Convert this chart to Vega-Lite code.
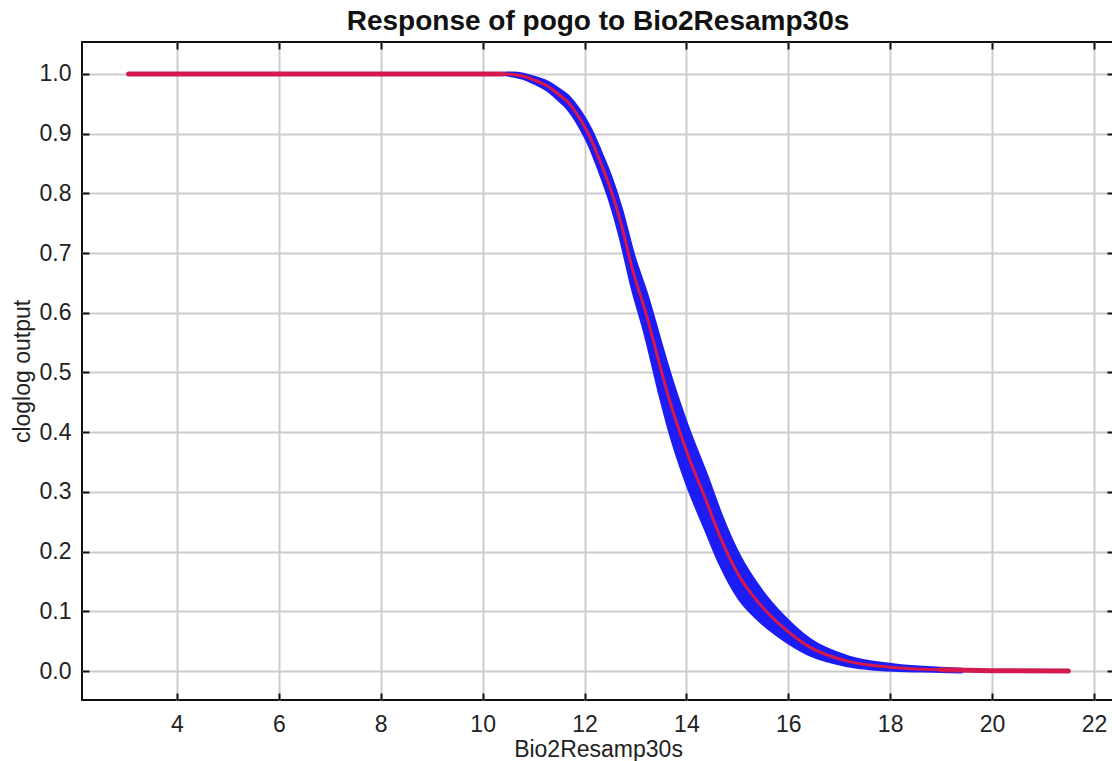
{
  "$schema": "https://vega.github.io/schema/vega-lite/v6.json",
  "width": 1032,
  "height": 658,
  "autosize": {"type": "none"},
  "padding": {"left": 82, "top": 42, "right": 0, "bottom": 61},
  "background": "white",
  "title": {"text": "Response of pogo to Bio2Resamp30s", "font": "Liberation Sans", "fontSize": 28, "fontWeight": "bold", "color": "#111111", "anchor": "middle", "offset": 5},
  "config": {
    "view": {"stroke": "#111111", "strokeWidth": 2},
    "axis": {"labelFont": "Liberation Sans", "titleFont": "Liberation Sans", "labelFontSize": 23, "titleFontSize": 23, "titleFontWeight": "normal", "labelColor": "#222222", "titleColor": "#222222", "domain": false, "gridColor": "#cccccc", "gridWidth": 2, "tickColor": "#111111", "tickWidth": 2}
  },
  "datasets": {
    "band": [
      {"x": 10.45, "lo": 1.0, "hi": 1.0},
      {"x": 10.6, "lo": 0.998, "hi": 1.0},
      {"x": 10.8, "lo": 0.994, "hi": 0.998},
      {"x": 11.0, "lo": 0.987, "hi": 0.993},
      {"x": 11.26, "lo": 0.975, "hi": 0.985},
      {"x": 11.5, "lo": 0.958, "hi": 0.972},
      {"x": 11.65, "lo": 0.946, "hi": 0.963},
      {"x": 11.91, "lo": 0.914, "hi": 0.935},
      {"x": 12.11, "lo": 0.881, "hi": 0.906},
      {"x": 12.3, "lo": 0.84, "hi": 0.869},
      {"x": 12.5, "lo": 0.792, "hi": 0.827},
      {"x": 12.7, "lo": 0.733, "hi": 0.775},
      {"x": 12.95, "lo": 0.643, "hi": 0.695},
      {"x": 13.21, "lo": 0.564, "hi": 0.629},
      {"x": 13.5, "lo": 0.462, "hi": 0.543},
      {"x": 13.67, "lo": 0.407, "hi": 0.494},
      {"x": 14.0, "lo": 0.32, "hi": 0.41},
      {"x": 14.39, "lo": 0.238, "hi": 0.325},
      {"x": 14.66, "lo": 0.183, "hi": 0.262},
      {"x": 15.05, "lo": 0.122, "hi": 0.188},
      {"x": 15.44, "lo": 0.086, "hi": 0.136},
      {"x": 15.9, "lo": 0.055, "hi": 0.09},
      {"x": 16.42, "lo": 0.029, "hi": 0.051},
      {"x": 17.14, "lo": 0.011, "hi": 0.023},
      {"x": 18.06, "lo": 0.003, "hi": 0.009},
      {"x": 19.0, "lo": 0.001, "hi": 0.003},
      {"x": 19.4, "lo": 0.0, "hi": 0.0015}
    ],
    "mean": [
      {"x": 3.05, "y": 1.0},
      {"x": 10.4, "y": 1.0},
      {"x": 10.6, "y": 0.999},
      {"x": 10.8, "y": 0.996},
      {"x": 11.0, "y": 0.99},
      {"x": 11.26, "y": 0.98},
      {"x": 11.5, "y": 0.965},
      {"x": 11.65, "y": 0.955},
      {"x": 11.91, "y": 0.925},
      {"x": 12.11, "y": 0.894},
      {"x": 12.3, "y": 0.855},
      {"x": 12.5, "y": 0.81},
      {"x": 12.7, "y": 0.755},
      {"x": 12.95, "y": 0.67},
      {"x": 13.21, "y": 0.598},
      {"x": 13.5, "y": 0.505},
      {"x": 13.67, "y": 0.453},
      {"x": 14.0, "y": 0.369},
      {"x": 14.39, "y": 0.285},
      {"x": 14.66, "y": 0.225},
      {"x": 15.05, "y": 0.157},
      {"x": 15.44, "y": 0.112},
      {"x": 15.9, "y": 0.073},
      {"x": 16.42, "y": 0.04},
      {"x": 17.14, "y": 0.017},
      {"x": 18.06, "y": 0.006},
      {"x": 19.0, "y": 0.002},
      {"x": 20.0, "y": 0.0005},
      {"x": 21.5, "y": 0.0}
    ]
  },
  "layer": [
    {
      "layer": [
        {
          "data": {"name": "band"},
          "mark": {"type": "area", "interpolate": "monotone", "color": "#1c1cf4", "stroke": "#1c1cf4", "strokeWidth": 5, "strokeJoin": "round", "strokeCap": "round"},
          "encoding": {
            "x": {"field": "x", "type": "quantitative", "scale": {"domain": [2.135, 22.394], "nice": false, "zero": false}, "axis": {"values": [4, 6, 8, 10, 12, 14, 16, 18, 20, 22], "title": "Bio2Resamp30s", "tickSize": -7, "labelPadding": 20, "titlePadding": 2, "grid": true}},
            "y": {"field": "lo", "type": "quantitative", "scale": {"domain": [-0.0485, 1.0534], "nice": false, "zero": false}, "axis": {"values": [0, 0.1, 0.2, 0.3, 0.4, 0.5, 0.6, 0.7, 0.8, 0.9, 1.0], "format": ".1f", "title": "cloglog output", "tickSize": -7, "labelPadding": 18, "titlePadding": 5, "grid": true}},
            "y2": {"field": "hi"}
          }
        },
        {
          "data": {"name": "mean"},
          "transform": [{"filter": "datum.x <= 10.5"}],
          "mark": {"type": "line", "color": "#c81c5c", "strokeWidth": 5, "strokeCap": "round"},
          "encoding": {
            "x": {"field": "x", "type": "quantitative"},
            "y": {"field": "y", "type": "quantitative"}
          }
        },
        {
          "data": {"name": "mean"},
          "transform": [{"filter": "datum.x >= 19.0"}],
          "mark": {"type": "line", "color": "#c81c5c", "strokeWidth": 5, "strokeCap": "round"},
          "encoding": {
            "x": {"field": "x", "type": "quantitative"},
            "y": {"field": "y", "type": "quantitative"}
          }
        },
        {
          "data": {"name": "mean"},
          "mark": {"type": "line", "interpolate": "monotone", "color": "#d8184a", "strokeWidth": 3, "strokeCap": "round"},
          "encoding": {
            "x": {"field": "x", "type": "quantitative"},
            "y": {"field": "y", "type": "quantitative"}
          }
        }
      ]
    },
    {
      "data": {"name": "mean"},
      "mark": {"type": "point", "opacity": 0},
      "encoding": {
        "x": {"field": "x", "type": "quantitative", "scale": {"domain": [2.135, 22.394], "nice": false, "zero": false}, "axis": {"orient": "top", "values": [4, 6, 8, 10, 12, 14, 16, 18, 20, 22], "labels": false, "title": null, "grid": false, "tickSize": -7}},
        "y": {"field": "y", "type": "quantitative", "scale": {"domain": [-0.0485, 1.0534], "nice": false, "zero": false}, "axis": {"orient": "right", "values": [0, 0.1, 0.2, 0.3, 0.4, 0.5, 0.6, 0.7, 0.8, 0.9, 1.0], "labels": false, "title": null, "grid": false, "tickSize": -7}}
      }
    }
  ],
  "resolve": {"scale": {"x": "independent", "y": "independent"}, "axis": {"x": "independent", "y": "independent"}}
}
